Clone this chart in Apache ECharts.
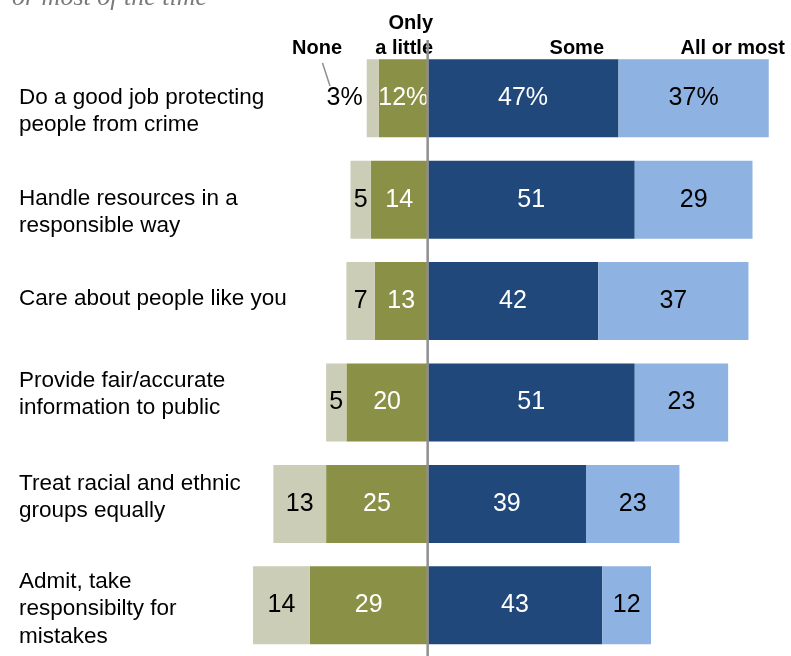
<!DOCTYPE html>
<html>
<head>
<meta charset="utf-8">
<script src="https://cdn.jsdelivr.net/npm/echarts@6/dist/echarts.min.js"></script>
<style>
  html, body { margin: 0; padding: 0; background: #fff; }
  #chart { width: 791px; height: 656px; }
</style>
</head>
<body>
<div id="chart"></div>
<script>
// Survey items, top to bottom
const categories = [
  'Do a good job protecting\npeople from crime',
  'Handle resources in a\nresponsible way',
  'Care about people like you',
  'Provide fair/accurate\ninformation to public',
  'Treat racial and ethnic\ngroups equally',
  'Admit, take\nresponsibilty for\nmistakes'
];

// Shares (%) answering each option
const noneVals   = [3, 5, 7, 5, 13, 14];
const littleVals = [12, 14, 13, 20, 25, 29];
const someVals   = [47, 51, 42, 51, 39, 43];
const allVals    = [37, 29, 37, 23, 23, 12];

// Column headings
const headNone = 'None';
const headLittle = 'Only\na little';
const headSome = 'Some';
const headAll = 'All or most';
const subTitle = 'or most of the time';

// Vertical nudge of each row's text block relative to its bar centre
const labelShift = [13, 12.5, -2, -8, -6.5, 3.5];

const FONT = '"Liberation Sans", Arial, sans-serif';
const COLORS = {
  none: '#CBCDB6',
  little: '#8A9045',
  some: '#21487A',
  all: '#8EB2E1'
};

const chart = echarts.init(document.getElementById('chart'), null, { renderer: 'canvas' });

function valueLabel(p) {
  const v = Math.abs(p.value);
  return p.dataIndex === 0 ? v + '%' : String(v);
}

function labelStyle(color) {
  return {
    show: true,
    position: 'inside',
    color: color,
    fontFamily: FONT,
    fontSize: 25,
    formatter: valueLabel
  };
}

const BAR_W = 78;

chart.setOption({
  animation: false,
  grid: { left: 184, width: 601, top: 47.6, height: 610.8, containLabel: false },
  xAxis: {
    type: 'value',
    min: -60,
    max: 88,
    show: false
  },
  yAxis: {
    type: 'category',
    data: categories,
    inverse: true,
    axisLine: { show: false },
    axisTick: { show: false },
    axisLabel: { show: false },
    splitLine: { show: false }
  },
  series: [
    {
      name: 'Only a little',
      type: 'bar',
      stack: 'total',
      barWidth: BAR_W,
      data: littleVals.map(v => -v),
      itemStyle: { color: COLORS.little },
      label: labelStyle('#ffffff')
    },
    {
      name: 'None',
      type: 'bar',
      stack: 'total',
      barWidth: BAR_W,
      data: noneVals.map((v, i) => i === 0
        ? { value: -v, label: { position: 'left', distance: 4 } }
        : -v),
      itemStyle: { color: COLORS.none },
      label: labelStyle('#000000')
    },
    {
      name: 'Some',
      type: 'bar',
      stack: 'total',
      barWidth: BAR_W,
      data: someVals.slice(),
      itemStyle: { color: COLORS.some },
      label: labelStyle('#ffffff')
    },
    {
      name: 'All or most',
      type: 'bar',
      stack: 'total',
      barWidth: BAR_W,
      data: allVals.slice(),
      itemStyle: { color: COLORS.all },
      label: labelStyle('#000000')
    }
  ]
});

// Overlay: zero line, row labels, column headings
const x0 = chart.convertToPixel({ xAxisIndex: 0 }, 0);
const graphics = [];

graphics.push({
  type: 'line',
  z: 100,
  shape: { x1: x0, y1: 40, x2: x0, y2: 656 },
  style: { stroke: '#8f8f8f', lineWidth: 2.5 }
});

categories.forEach((c, i) => {
  const yc = chart.convertToPixel({ yAxisIndex: 0 }, c);
  graphics.push({
    type: 'text',
    x: 19,
    y: yc + labelShift[i],
    style: {
      text: c,
      fill: '#000',
      fontFamily: FONT,
      fontSize: 22.5,
      lineHeight: 27.5,
      align: 'left',
      verticalAlign: 'middle'
    }
  });
});

const headStyle = (text, align) => ({
  text: text,
  fill: '#000',
  fontFamily: FONT,
  fontWeight: 'bold',
  fontSize: 20,
  lineHeight: 25,
  align: align,
  verticalAlign: 'bottom'
});

graphics.push({ type: 'text', x: 342, y: 61, style: headStyle(headNone, 'right') });
graphics.push({ type: 'text', x: 433, y: 61, style: headStyle(headLittle, 'right') });
graphics.push({ type: 'text', x: 604, y: 61, style: headStyle(headSome, 'right') });
graphics.push({ type: 'text', x: 785, y: 61, style: headStyle(headAll, 'right') });

// Leader from the "None" heading to the first row's small value
graphics.push({
  type: 'line',
  shape: { x1: 322.5, y1: 63, x2: 330, y2: 86 },
  style: { stroke: '#8f8f8f', lineWidth: 1.5 }
});

graphics.push({
  type: 'text',
  x: 12,
  y: -2,
  style: {
    text: subTitle,
    fill: '#7a7a7a',
    fontFamily: '"Liberation Serif", "DejaVu Serif", serif',
    fontStyle: 'italic',
    fontSize: 26,
    align: 'left',
    verticalAlign: 'middle'
  }
});

chart.setOption({ graphic: graphics });
</script>
</body>
</html>
